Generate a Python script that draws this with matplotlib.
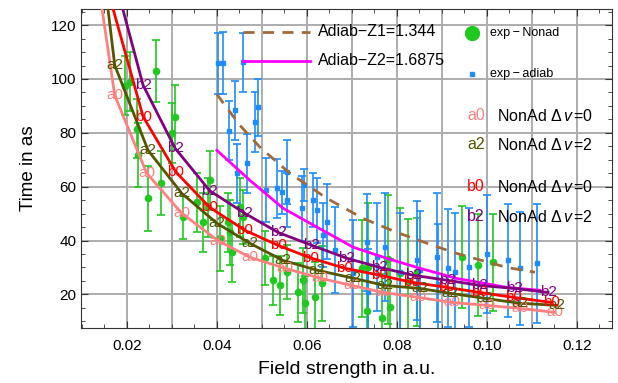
import numpy as np
import matplotlib
matplotlib.use('Agg')
import matplotlib.pyplot as plt
from matplotlib.lines import Line2D

plt.rcParams['font.family'] = ['Liberation Sans', 'DejaVu Sans']
plt.rcParams['mathtext.fontset'] = 'custom'
plt.rcParams['mathtext.rm'] = 'Liberation Sans'
plt.rcParams['mathtext.it'] = 'Liberation Sans:italic'

# NonAd curves (points where the text markers sit)
a0_x = [0.0143, 0.0173, 0.0244, 0.0322, 0.0402, 0.0473, 0.0551, 0.0629, 0.0700, 0.0769, 0.0847, 0.0922, 0.1000, 0.1073, 0.1151]
a0_y = [128.0, 93.9, 65.0, 50.1, 40.0, 33.8, 29.7, 26.0, 23.3, 20.7, 18.9, 17.0, 15.9, 14.8, 13.3]
a2_x = [0.0150, 0.0173, 0.0247, 0.0322, 0.0400, 0.0473, 0.0547, 0.0622, 0.0703, 0.0773, 0.0851, 0.0918, 0.0996, 0.1073, 0.1156]
a2_y = [137.0, 105.1, 73.5, 57.5, 46.4, 39.0, 32.6, 29.0, 26.0, 23.3, 22.2, 20.4, 18.5, 16.7, 15.9]
b0_x = [0.0166, 0.0236, 0.0309, 0.0384, 0.0462, 0.0536, 0.0607, 0.0684, 0.0762, 0.0833, 0.0911, 0.0984, 0.1058, 0.1144]
b0_y = [128.0, 86.0, 65.4, 52.3, 43.8, 38.2, 33.6, 29.7, 27.1, 24.5, 22.6, 20.7, 18.9, 17.0]
b2_x = [0.0186, 0.0236, 0.0307, 0.0384, 0.0462, 0.0536, 0.0611, 0.0689, 0.0762, 0.0836, 0.0913, 0.0984, 0.1062, 0.1136]
b2_y = [129.0, 97.7, 74.3, 58.5, 50.1, 43.0, 38.2, 33.4, 30.0, 27.1, 25.2, 23.3, 22.2, 20.7]

# adiabatic curves
z1_x = [0.0400, 0.0451, 0.0496, 0.0562, 0.0644, 0.0725, 0.0800, 0.0880, 0.0933, 0.1044, 0.1107]
z1_y = [94.3, 82.8, 74.6, 65.0, 55.7, 48.2, 43.0, 38.2, 35.2, 30.0, 28.2]
z2_x = [0.0400, 0.0473, 0.0547, 0.0607, 0.0703, 0.0777, 0.0851, 0.0933, 0.1044, 0.1118]
z2_y = [73.5, 62.4, 52.0, 46.4, 37.5, 33.4, 29.7, 25.9, 22.6, 21.5]

# experiment, non adiabatic
gx = [0.0196, 0.0207, 0.0222, 0.0225, 0.0247, 0.0264, 0.0276, 0.0300, 0.0307, 0.0325,
      0.0355, 0.0369, 0.0380, 0.0384, 0.0407, 0.0425, 0.0429, 0.0433, 0.0451, 0.0458,
      0.0507, 0.0524, 0.0540, 0.0556, 0.0580, 0.0591, 0.0596, 0.0618, 0.0633, 0.0722,
      0.0736, 0.0733, 0.0767, 0.0780, 0.0784, 0.0807, 0.0824, 0.0844, 0.0944, 0.0980,
      0.1013]
gy = [97.5, 99.0, 81.5, 71.7, 55.7, 102.9, 61.3, 79.9, 85.8, 48.6,
      54.2, 46.8, 52.3, 62.4, 40.8, 46.8, 43.0, 35.6, 52.3, 48.6,
      33.4, 25.2, 23.3, 28.2, 20.7, 25.2, 16.7, 18.9, 24.1, 29.7,
      30.0, 14.0, 11.4, 33.0, 15.2, 28.0, 25.0, 28.2, 33.8, 30.8,
      31.9]
ge = [11, 11, 11, 12, 12, 11.5, 12, 11, 12, 8,
      11, 11, 11, 11, 12, 11, 12, 11, 11, 10,
      10, 9, 11, 10, 11, 12, 10, 13, 14, 18,
      24, 16, 16, 24, 18, 24, 23, 20, 19, 19,
      18]

# experiment, adiabatic
bx = [0.0402, 0.0413, 0.0427, 0.0440, 0.0444, 0.0458, 0.0467, 0.0484, 0.0491, 0.0509,
      0.0533, 0.0544, 0.0556, 0.0556, 0.0589, 0.0593, 0.0613, 0.0622, 0.0636, 0.0645,
      0.0662, 0.0702, 0.0733, 0.0736, 0.0755, 0.0773, 0.0807, 0.0844, 0.0851, 0.0889,
      0.0891, 0.0913, 0.0929, 0.0960, 0.1000, 0.1047, 0.1073, 0.1111]
by = [105.9, 106.0, 80.8, 88.4, 65.0, 106.2, 68.7, 84.0, 89.5, 58.7,
      59.4, 58.0, 65.4, 55.0, 52.0, 60.5, 55.0, 51.2, 42.0, 47.0,
      36.4, 27.8, 39.3, 20.7, 34.0, 37.5, 28.2, 32.6, 28.9, 33.8,
      24.0, 29.7, 28.2, 30.0, 35.0, 32.6, 29.7, 31.5]
be = [11.3, 11.4, 11, 11, 11, 11, 11, 11, 10.5, 12,
      11, 8, 12, 10, 12, 6, 10, 12, 12, 14,
      16, 20, 18, 16, 20, 20, 22, 22, 22, 24,
      22, 22, 22, 22, 22, 21, 21, 22]

pink = '#ff8080'
olive = '#555500'
red = '#ff0000'
purple = '#800080'
green = '#20c820'
blue = '#1e8cff'
brown = '#a06a3a'
magenta = '#ff00ff'

fig = plt.figure(figsize=(6.18, 3.83), dpi=100)
ax = fig.add_axes([81/618, 1-328/383, 531/618, 319/383])

ax.errorbar(gx, gy, yerr=ge, fmt='o', color=green, ms=4.5, capsize=3,
            elinewidth=1.2, capthick=1.2, zorder=2)
ax.errorbar(bx, by, yerr=be, fmt='s', color=blue, ms=3.5, capsize=3,
            elinewidth=1.2, capthick=1.2, zorder=2)

ax.plot(z1_x, z1_y, color=brown, lw=2, dashes=(4, 3), zorder=3)
ax.plot(z2_x, z2_y, color=magenta, lw=2, zorder=3)

curves = [(a0_x, a0_y, pink, 'a0'), (a2_x, a2_y, olive, 'a2'),
          (b0_x, b0_y, red, 'b0'), (b2_x, b2_y, purple, 'b2')]
for cx, cy, col, lab in curves:
    ax.plot(cx, cy, color=col, lw=2, zorder=4)
    for px, py in zip(cx, cy):
        ax.text(px, py, lab, color=col, fontsize=11, ha='center', va='center',
                zorder=5, clip_on=True)

ax.set_xlim(0.0098, 0.1278)
ax.set_ylim(7.5, 126)
ax.set_xticks([0.02, 0.04, 0.06, 0.08, 0.10, 0.12])
ax.set_xticklabels(['0.02', '0.04', '0.06', '0.08', '0.10', '0.12'])
ax.set_xticks(np.arange(0.01, 0.1276, 0.005), minor=True)
ax.set_yticks([20, 40, 60, 80, 100, 120])
ax.set_yticks(np.arange(10, 126, 5), minor=True)
ax.tick_params(which='both', direction='in', top=True, right=True, labelsize=11, color='#333333')
ax.tick_params(which='major', length=5)
ax.tick_params(which='minor', length=3)
ax.tick_params(axis='x', pad=8)
for v in np.arange(0.02, 0.121, 0.01):
    ax.axvline(v, color='#adadad', lw=1.4, zorder=0)
for v in [20, 40, 60, 80, 100, 120]:
    ax.axhline(v, color='#adadad', lw=1.4, zorder=0)
for s in ax.spines.values():
    s.set_color('#333333')

ax.set_xlabel('Field strength in a.u.', fontsize=14, labelpad=6)
ax.set_ylabel('Time in as', fontsize=13.5, labelpad=10)

# legend, drawn in axes fraction
def fx(p):
    return (p - 81) / 531.0

def fy(p):
    return (328 - p) / 319.0

T = ax.transAxes
ax.add_line(Line2D([fx(243), fx(310)], [fy(32), fy(32)], transform=T, color=brown, lw=2, dashes=(4, 3), zorder=6))
ax.add_line(Line2D([fx(243), fx(310)], [fy(61), fy(61)], transform=T, color=magenta, lw=2, zorder=6))
ax.text(fx(318), fy(32), 'Adiab\u2212Z1=1.344', transform=T, fontsize=11.5, va='center', zorder=6)
ax.text(fx(318), fy(61), 'Adiab\u2212Z2=1.6875', transform=T, fontsize=11.5, va='center', zorder=6)
ax.plot([fx(472)], [fy(33)], 'o', color=green, ms=10, transform=T, zorder=6, clip_on=False)
ax.plot([fx(472)], [fy(74)], 's', color=blue, ms=3, transform=T, zorder=6, clip_on=False)
ax.text(fx(490), fy(33), 'exp\u2009\u2212\u2009Nonad', transform=T, fontsize=9, va='center', zorder=6)
ax.text(fx(490), fy(74), 'exp\u2009\u2212\u2009adiab', transform=T, fontsize=9, va='center', zorder=6)
leg_rows = [('a0', pink, '0', 116), ('a2', olive, '2', 145), ('b0', red, '0', 187), ('b2', purple, '2', 217)]
for lab, col, dv, py in leg_rows:
    ax.text(fx(476), fy(py), lab, color=col, transform=T, fontsize=11.5, ha='center', va='center', zorder=6)
    ax.text(fx(497), fy(py), r'NonAd $\Delta\,\mathit{v}\,$=' + dv, transform=T, fontsize=11.5, va='center', zorder=6)

fig.savefig('out.png', dpi=100)
